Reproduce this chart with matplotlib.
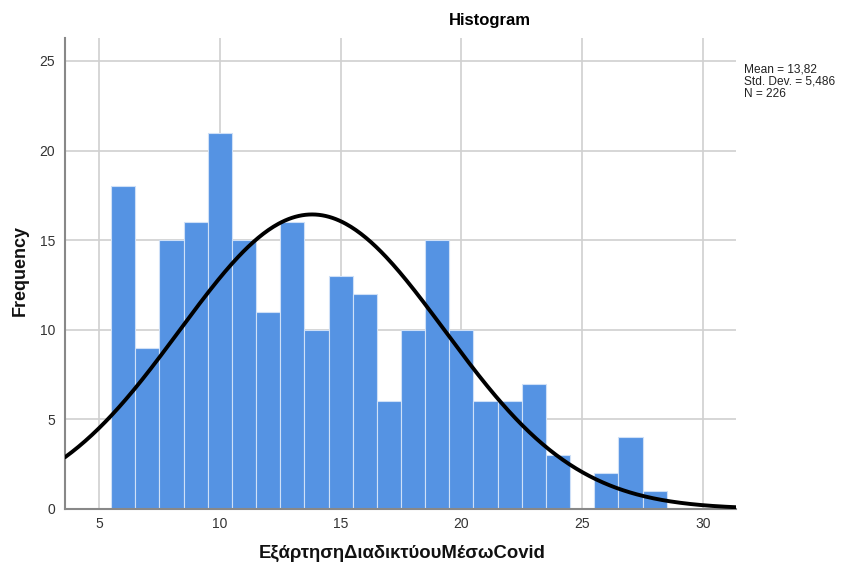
import numpy as np
import matplotlib
matplotlib.use("Agg")
import matplotlib.pyplot as plt

# Data
bin_centers = [6, 7, 8, 9, 10, 11, 12, 13, 14, 15, 16, 17, 18, 19, 20, 21, 22, 23, 24, 25, 26, 27, 28]
frequencies = [18, 9, 15, 16, 21, 15, 11, 16, 10, 13, 12, 6, 10, 15, 10, 6, 6, 7, 3, 0, 2, 4, 1]
mean_val = 13.82
std_val = 5.486
n_val = 226
bin_width = 1.0
x_ticks = [5, 10, 15, 20, 25, 30]
y_ticks = [0, 5, 10, 15, 20, 25]
stats_lines = ["Mean = 13,82", "Std. Dev. = 5,486", "N = 226"]

plt.rcParams['font.family'] = ['Liberation Sans', 'DejaVu Sans']

W, H = 843, 568
fig = plt.figure(figsize=(W / 100, H / 100), dpi=100)
ax = fig.add_axes([65 / W, 1 - 509 / H, (736 - 65) / W, (509 - 38) / H])

ax.set_xlim(3.59, 31.37)
ax.set_ylim(0, 26.28)

ax.set_axisbelow(True)
ax.grid(True, color='#d0d0d0', linewidth=1.2)
ax.set_xticks(x_ticks)
ax.set_yticks(y_ticks)

ax.bar(bin_centers, frequencies, width=bin_width, color='#5593E3',
       edgecolor='#cfe0f7', linewidth=0.8, zorder=2)

xs = np.linspace(3.59, 31.37, 400)
ys = n_val * bin_width * np.exp(-0.5 * ((xs - mean_val) / std_val) ** 2) / (std_val * np.sqrt(2 * np.pi))
ax.plot(xs, ys, color='black', linewidth=2.8, zorder=3, solid_capstyle='round')

for s in ['top', 'right']:
    ax.spines[s].set_visible(False)
for s in ['left', 'bottom']:
    ax.spines[s].set_color('#888888')
    ax.spines[s].set_linewidth(1.5)

ax.tick_params(axis='both', length=0, labelsize=10, labelcolor='#333333')
ax.tick_params(axis='x', pad=6)
ax.tick_params(axis='y', pad=7)

fig.text(402 / W, 1 - 553 / H, 'ΕξάρτησηΔιαδικτύουΜέσωCovid', ha='center', va='center',
         fontsize=13.3, fontweight='bold', color='#111111')
fig.text(20 / W, 1 - 271 / H, 'Frequency', ha='center', va='center', rotation=90,
         fontsize=13, fontweight='bold', color='#111111')

fig.text(490 / W, 1 - 20 / H, 'Histogram', ha='center', va='center', fontsize=12, fontweight='bold')

for i, line in enumerate(stats_lines):
    fig.text(744 / W, 1 - (69 + 12.5 * i) / H, line, ha='left', va='center', fontsize=8.6, color='#222222')

fig.savefig('out.png', dpi=100)
